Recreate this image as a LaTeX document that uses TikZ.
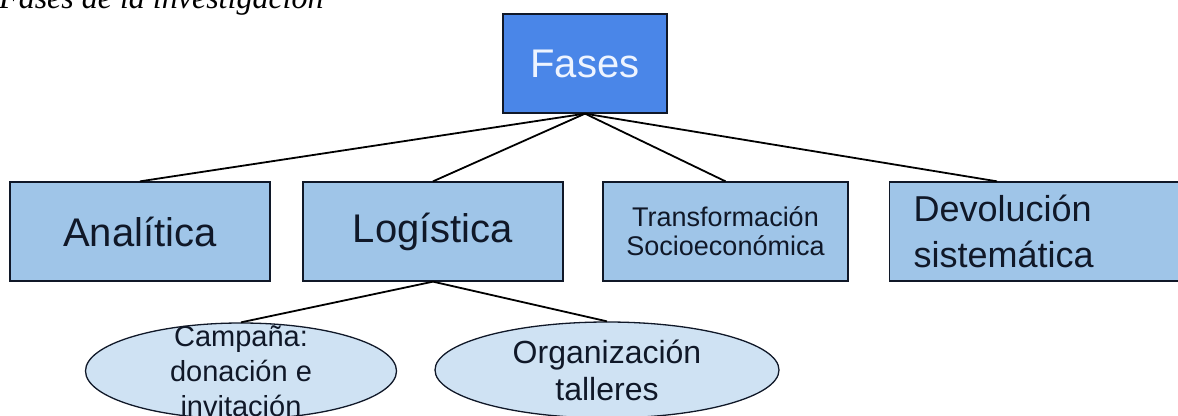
\documentclass[tikz,border=0pt]{standalone}
\usepackage{fontspec}
\setmainfont{Liberation Sans}
\newfontfamily\captionfont{Liberation Serif}
\usetikzlibrary{shapes.geometric}

\definecolor{phaseblue}{HTML}{4A86E8}
\definecolor{phasetext}{HTML}{EEF4FF}
\definecolor{stageblue}{HTML}{9FC5E8}
\definecolor{taskblue}{HTML}{CFE2F3}
\definecolor{inkdark}{HTML}{101828}

\tikzset{
  phase/.style={draw=inkdark, line width=1.3pt, fill=phaseblue, text=phasetext,
    minimum width=164pt, minimum height=99pt, inner sep=0pt,
    font=\fontsize{40}{46}\selectfont},
  stage/.style={draw=inkdark, line width=1.3pt, fill=stageblue, text=inkdark,
    minimum height=99pt, inner sep=0pt, align=center},
  task/.style={ellipse, draw=inkdark, line width=1.3pt, fill=taskblue,
    minimum width=311pt, minimum height=96pt, inner sep=0pt},
  tasktext/.style={text=inkdark, align=center, inner sep=0pt},
  link/.style={draw=black, line width=1.8pt}
}

\begin{document}
\begin{tikzpicture}[x=1pt,y=-1pt]

    \useasboundingbox (0,0) rectangle (1178,415);
    \clip (0,0) rectangle (1178,415);

    \node[anchor=base west, inner sep=0pt,
    font=\captionfont\itshape\fontsize{32}{38}\selectfont] (Caption) at (-1,9)
    {Fases de la investigación};

    \node[phase] (Fases) at (585,63.5) {Fases};

    \node[stage, minimum width=260pt, font=\fontsize{40}{46}\selectfont]
    (Analitica) at (140,231.5) {Analítica};

    \node[stage, minimum width=260pt, font=\fontsize{40}{46}\selectfont]
    (Logistica) at (433,231.5) {Logística};

    \node[stage, minimum width=245pt, font=\fontsize{27}{29}\selectfont]
    (Transformacion) at (725.5,231.5) {Transformación\\Socioeconómica};

    \node[stage, anchor=west, text width=290pt, align=left, inner xsep=24pt,
    font=\fontsize{36}{46}\selectfont] (Devolucion) at (889,231.5)
    {Devolución\\sistemática};

    \node[task] (Campana) at (241,371) {};
    \node[tasktext, font=\fontsize{29}{35}\selectfont] (CampanaText)
    at (Campana) {Campaña:\\donación e\\invitación};

    \node[task, minimum width=344pt] (Organizacion) at (607,370) {};
    \node[tasktext, font=\fontsize{32}{37}\selectfont] (OrganizacionText)
    at (Organizacion) {Organización\\talleres};

    \draw[link] (Fases.south) -- (Analitica.north);
    \draw[link] (Fases.south) -- (Logistica.north);
    \draw[link] (Fases.south) -- (Transformacion.north);
    \draw[link] (Fases.south) -- ([xshift=108pt]Devolucion.north west);

    \draw[link] (Logistica.south) -- (Campana.north);
    \draw[link] (Logistica.south) -- (Organizacion.north);
  \end{tikzpicture}
\end{document}
